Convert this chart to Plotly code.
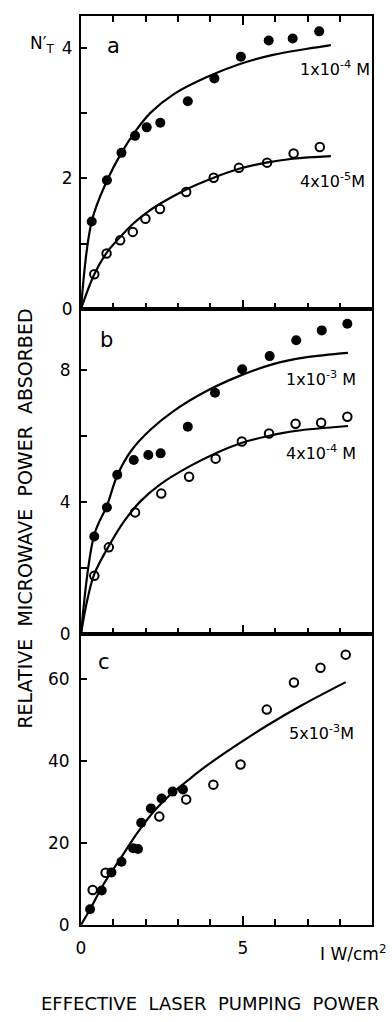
import plotly.graph_objects as go

# ---------------- data ----------------
# panel a
a_hi_x = [0.33, 0.80, 1.25, 1.67, 2.03, 2.45, 3.30, 4.12, 4.94, 5.80, 6.54, 7.36]
a_hi_y = [1.34, 1.97, 2.39, 2.65, 2.78, 2.85, 3.18, 3.53, 3.86, 4.11, 4.14, 4.25]
a_lo_x = [0.41, 0.79, 1.21, 1.60, 1.99, 2.44, 3.25, 4.10, 4.88, 5.75, 6.57, 7.38]
a_lo_y = [0.53, 0.85, 1.05, 1.18, 1.38, 1.53, 1.79, 2.01, 2.16, 2.24, 2.38, 2.48]
a_hi_fit_x = [0, 0.33, 0.80, 1.25, 1.65, 2.16, 2.87, 3.89, 4.91, 5.93, 6.95, 7.72]
a_hi_fit_y = [0, 1.34, 1.96, 2.39, 2.70, 3.01, 3.29, 3.55, 3.75, 3.89, 3.98, 4.04]
a_lo_fit_x = [0, 0.41, 0.79, 1.21, 1.60, 1.99, 2.44, 3.25, 4.10, 4.91, 5.72, 6.54, 7.72]
a_lo_fit_y = [0, 0.53, 0.86, 1.10, 1.30, 1.46, 1.61, 1.83, 2.01, 2.15, 2.24, 2.30, 2.34]

# panel b
b_hi_x = [0.41, 0.80, 1.12, 1.63, 2.08, 2.46, 3.30, 4.14, 4.98, 5.83, 6.65, 7.44, 8.23]
b_hi_y = [2.95, 3.83, 4.82, 5.27, 5.42, 5.47, 6.28, 7.31, 8.02, 8.42, 8.90, 9.20, 9.40]
b_lo_x = [0.41, 0.86, 1.67, 2.48, 3.34, 4.16, 4.97, 5.81, 6.63, 7.42, 8.23]
b_lo_y = [1.76, 2.62, 3.68, 4.25, 4.76, 5.31, 5.83, 6.07, 6.37, 6.40, 6.58]
b_hi_fit_x = [0, 0.41, 0.80, 1.12, 1.55, 2.16, 2.87, 3.88, 4.90, 5.91, 6.93, 8.25]
b_hi_fit_y = [0, 3.00, 3.88, 4.80, 5.55, 6.20, 6.76, 7.36, 7.82, 8.17, 8.38, 8.52]
b_lo_fit_x = [0, 0.20, 0.41, 0.86, 1.34, 1.85, 2.46, 3.38, 4.20, 5.00, 5.81, 6.63, 8.25]
b_lo_fit_y = [0, 1.05, 1.81, 2.66, 3.42, 4.03, 4.54, 5.09, 5.49, 5.80, 6.00, 6.15, 6.30]

# panel c
c_fill_x = [0.28, 0.64, 0.94, 1.25, 1.61, 1.76, 1.86, 2.16, 2.49, 2.83, 3.15]
c_fill_y = [3.8, 8.4, 12.8, 15.4, 18.7, 18.5, 24.9, 28.4, 30.8, 32.5, 33.0]
c_open_x = [0.36, 0.76, 2.42, 3.25, 4.09, 4.93, 5.74, 6.58, 7.40, 8.18]
c_open_y = [8.5, 12.7, 26.4, 30.6, 34.2, 39.1, 52.5, 59.1, 62.7, 65.9]
c_fit_x = [0, 0.28, 0.71, 1.22, 1.73, 2.24, 2.74, 3.25, 3.76, 4.78, 5.79, 6.81, 8.18]
c_fit_y = [0, 3.8, 10.1, 16.2, 22.3, 27.6, 31.6, 34.9, 38.1, 43.7, 48.8, 53.5, 59.2]

panel_letters = ["a", "b", "c"]
conc_labels = ["1x10<sup>-4</sup> M", "4x10<sup>-5</sup>M",
               "1x10<sup>-3</sup> M", "4x10<sup>-4</sup> M", "5x10<sup>-3</sup>M"]
y_title = "RELATIVE  MICROWAVE  POWER  ABSORBED"
x_title = "EFFECTIVE  LASER  PUMPING  POWER"
x_unit = "I W/cm<sup>2</sup>"
y_sym = "N′<sub>T</sub>"

# ---------------- figure ----------------
FONT = "DejaVu Sans"
W, H = 392, 1022
fig = go.Figure()

def filled(x, y, xa, ya):
    fig.add_trace(go.Scatter(x=x, y=y, mode="markers", xaxis=xa, yaxis=ya,
                             marker=dict(symbol="circle", size=10, color="black",
                                         line=dict(width=0)), showlegend=False))

def hollow(x, y, xa, ya):
    fig.add_trace(go.Scatter(x=x, y=y, mode="markers", xaxis=xa, yaxis=ya,
                             marker=dict(symbol="circle-open", size=8.5, color="black",
                                         line=dict(width=2)), showlegend=False))

def fit(x, y, xa, ya):
    fig.add_trace(go.Scatter(x=x, y=y, mode="lines", xaxis=xa, yaxis=ya,
                             line=dict(color="black", width=2.2, shape="spline", smoothing=1.0),
                             showlegend=False))

fit(a_hi_fit_x, a_hi_fit_y, "x", "y")
fit(a_lo_fit_x, a_lo_fit_y, "x", "y")
filled(a_hi_x, a_hi_y, "x", "y")
hollow(a_lo_x, a_lo_y, "x", "y")

fit(b_hi_fit_x, b_hi_fit_y, "x2", "y2")
fit(b_lo_fit_x, b_lo_fit_y, "x2", "y2")
filled(b_hi_x, b_hi_y, "x2", "y2")
hollow(b_lo_x, b_lo_y, "x2", "y2")

fit(c_fit_x, c_fit_y, "x3", "y3")
hollow(c_open_x, c_open_y, "x3", "y3")
filled(c_fill_x, c_fill_y, "x3", "y3")

xdom = [77 / W, 372 / W]
def ydom(top_px, bot_px):
    return [1 - bot_px / H, 1 - top_px / H]

tickfont = dict(family=FONT, size=17, color="black")

def xaxis(anchor, labels, mirror):
    return dict(domain=xdom, anchor=anchor, range=[0, 9], showgrid=False, zeroline=False,
                showline=True, linecolor="black", linewidth=2, mirror=mirror,
                tickmode="linear", tick0=0, dtick=5, ticks="inside", ticklen=9,
                tickwidth=1.6, tickcolor="black", showticklabels=labels,
                tickfont=tickfont, ticklabelstandoff=7,
                minor=dict(dtick=1, tick0=0, ticks="inside", ticklen=6,
                           tickwidth=1.6, tickcolor="black"))

def yaxis(anchor, dom, rng, dtick, minor, standoff):
    d = dict(domain=dom, anchor=anchor, range=rng, showgrid=False, zeroline=False,
             showline=True, linecolor="black", linewidth=2, mirror=True,
             tickmode="linear", tick0=0, dtick=dtick, ticks="inside", ticklen=6,
             tickwidth=1.6, tickcolor="black", tickfont=tickfont, ticklabelstandoff=standoff)
    if minor:
        d["minor"] = dict(dtick=minor, tick0=0, ticks="inside", ticklen=6,
                          tickwidth=1.6, tickcolor="black")
    return d

fig.update_layout(
    width=W, height=H, margin=dict(l=0, r=0, t=0, b=0),
    paper_bgcolor="white", plot_bgcolor="white",
    xaxis=xaxis("y", False, "ticks"),
    xaxis2=xaxis("y2", False, True),
    xaxis3=xaxis("y3", True, True),
    yaxis=yaxis("x", ydom(16.5, 312), [0, 4.48], 2, 1, 3),
    yaxis2=yaxis("x2", ydom(312, 640), [0, 9.85], 4, 2, 5),
    yaxis3=yaxis("x3", ydom(640, 934), [0, 71], 20, None, 6),
)

ann = []
lf = dict(family=FONT, size=21, color="black")
cf = dict(family=FONT, size=16, color="black")
ann.append(dict(x=1.0, y=4.02, xref="x", yref="y", text=panel_letters[0], font=lf,
                showarrow=False, xanchor="center", yanchor="middle"))
ann.append(dict(x=0.79, y=8.92, xref="x2", yref="y2", text=panel_letters[1], font=lf,
                showarrow=False, xanchor="center", yanchor="middle"))
ann.append(dict(x=0.70, y=64.2, xref="x3", yref="y3", text=panel_letters[2], font=lf,
                showarrow=False, xanchor="center", yanchor="middle"))
ann.append(dict(x=6.72, y=3.68, xref="x", yref="y", text=conc_labels[0], font=cf,
                showarrow=False, xanchor="left", yanchor="middle"))
ann.append(dict(x=6.70, y=1.96, xref="x", yref="y", text=conc_labels[1], font=cf,
                showarrow=False, xanchor="left", yanchor="middle"))
ann.append(dict(x=6.26, y=7.75, xref="x2", yref="y2", text=conc_labels[2], font=cf,
                showarrow=False, xanchor="left", yanchor="middle"))
ann.append(dict(x=6.26, y=5.50, xref="x2", yref="y2", text=conc_labels[3], font=cf,
                showarrow=False, xanchor="left", yanchor="middle"))
ann.append(dict(x=6.38, y=46.9, xref="x3", yref="y3", text=conc_labels[4], font=cf,
                showarrow=False, xanchor="left", yanchor="middle"))
ann.append(dict(x=38 / W, y=1 - 45 / H, xref="paper", yref="paper", text=y_sym,
                font=dict(family=FONT, size=17, color="black"),
                showarrow=False, xanchor="center", yanchor="middle"))
ann.append(dict(x=20 / W, y=1 - 524 / H, xref="paper", yref="paper", text=y_title,
                font=dict(family=FONT, size=19, color="black"), textangle=-90,
                showarrow=False, xanchor="center", yanchor="middle"))
ann.append(dict(x=352 / W, y=1 - 962 / H, xref="paper", yref="paper", text=x_unit,
                font=dict(family=FONT, size=17, color="black"),
                showarrow=False, xanchor="center", yanchor="middle"))
ann.append(dict(x=208 / W, y=1 - 1013 / H, xref="paper", yref="paper", text=x_title,
                font=dict(family=FONT, size=18, color="black"),
                showarrow=False, xanchor="center", yanchor="middle"))
fig.update_layout(annotations=ann)

fig.write_html("out.html")
